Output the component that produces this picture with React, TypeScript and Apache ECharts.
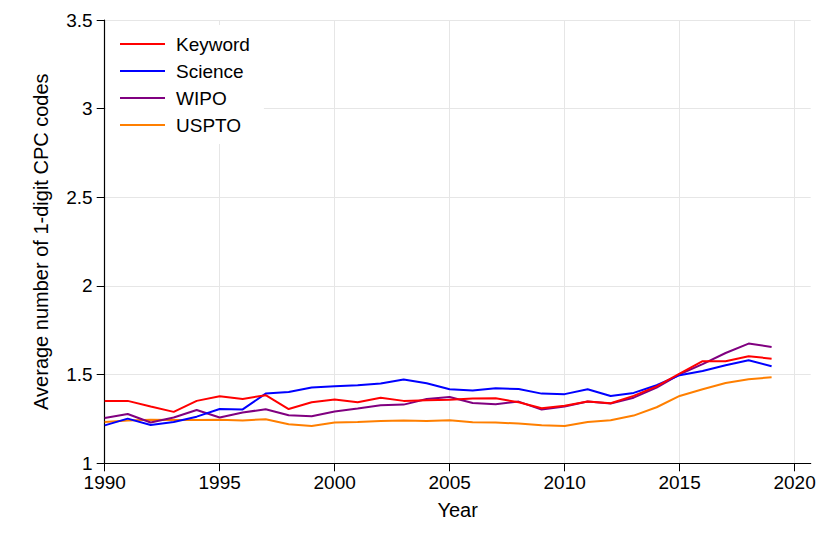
import React, { useEffect, useRef } from "react";
import * as echarts from "echarts";

const years = [1990,1991,1992,1993,1994,1995,1996,1997,1998,1999,2000,2001,2002,2003,2004,2005,2006,2007,2008,2009,2010,2011,2012,2013,2014,2015,2016,2017,2018,2019];
const keyword = [1.352,1.352,1.32,1.29,1.352,1.378,1.363,1.384,1.306,1.344,1.36,1.344,1.37,1.352,1.356,1.358,1.365,1.367,1.344,1.31,1.325,1.348,1.339,1.38,1.434,1.506,1.576,1.576,1.604,1.59];
const science = [1.214,1.252,1.216,1.233,1.263,1.306,1.304,1.393,1.402,1.427,1.434,1.44,1.45,1.472,1.451,1.418,1.41,1.423,1.419,1.393,1.39,1.418,1.38,1.397,1.44,1.497,1.52,1.553,1.581,1.547];
const wipo = [1.256,1.278,1.23,1.258,1.301,1.258,1.286,1.305,1.271,1.265,1.292,1.309,1.327,1.331,1.363,1.374,1.34,1.333,1.348,1.303,1.32,1.348,1.337,1.37,1.427,1.502,1.559,1.622,1.675,1.656];
const uspto = [1.233,1.241,1.246,1.244,1.244,1.246,1.242,1.248,1.22,1.21,1.23,1.233,1.239,1.241,1.239,1.243,1.231,1.23,1.224,1.214,1.21,1.233,1.243,1.269,1.316,1.38,1.418,1.453,1.474,1.485];
const xTicks = [1990, 1995, 2000, 2005, 2010, 2015, 2020];
const seriesNames = ["Keyword", "Science", "WIPO", "USPTO"];
const seriesColors = ["#ff0000", "#0000ff", "#800080", "#ff7f00"];

export default function App() {
  const ref = useRef<HTMLDivElement>(null);
  useEffect(() => {
    if (!ref.current) return;
    document.body.style.margin = "0";
    const chart = echarts.init(ref.current, null, { renderer: "svg" });
    const font = "'Liberation Sans', Arial, Helvetica, sans-serif";
    const data = [keyword, science, wipo, uspto];
    chart.setOption({
      animation: false,
      textStyle: { fontFamily: font },
      grid: { left: 104.7, right: 19.3, top: 20, bottom: 90.7, containLabel: false },
      legend: {
        left: 106,
        top: 25,
        orient: "vertical",
        backgroundColor: "#ffffff",
        padding: [9, 14, 9, 14],
        icon: "rect",
        itemWidth: 45,
        itemHeight: 2,
        itemGap: 7,
        data: seriesNames,
        textStyle: { fontFamily: font, fontSize: 19, color: "#000", lineHeight: 20, padding: [0, 0, 0, 6] },
      },
      xAxis: {
        type: "value",
        min: 1990,
        max: 2020.7,
        interval: 5,
        name: "Year",
        nameLocation: "middle",
        nameGap: 37,
        nameTextStyle: { fontFamily: font, fontSize: 20, color: "#000" },
        axisLine: { lineStyle: { color: "#000", width: 1.2 } },
        axisTick: { length: 8, lineStyle: { color: "#000" }, customValues: xTicks },
        axisLabel: { customValues: xTicks, margin: 10, lineHeight: 18, fontFamily: font, fontSize: 19, color: "#000", formatter: (v: number) => String(v) },
        splitLine: { show: true, lineStyle: { color: "#e6e6e6", width: 1 } },
      },
      yAxis: {
        type: "value",
        min: 1,
        max: 3.5,
        interval: 0.5,
        name: "Average number of 1-digit CPC codes",
        nameLocation: "middle",
        nameGap: 54,
        nameTextStyle: { fontFamily: font, fontSize: 20, color: "#000" },
        axisLine: { show: true, lineStyle: { color: "#000", width: 1.2 } },
        axisTick: { show: true, length: 8, lineStyle: { color: "#000" } },
        axisLabel: { margin: 12, lineHeight: 15, fontFamily: font, fontSize: 19, color: "#000" },
        splitLine: { show: true, lineStyle: { color: "#e6e6e6", width: 1 } },
      },
      series: seriesNames.map((name, i) => ({
        name,
        type: "line",
        data: years.map((y, j) => [y, data[i][j]]),
        showSymbol: false,
        symbol: "none",
        lineStyle: { color: seriesColors[i], width: 2 },
        itemStyle: { color: seriesColors[i] },
        z: 10 - i,
      })),
    });
    return () => chart.dispose();
  }, []);
  return <div ref={ref} style={{ width: 830, height: 554 }} />;
}
